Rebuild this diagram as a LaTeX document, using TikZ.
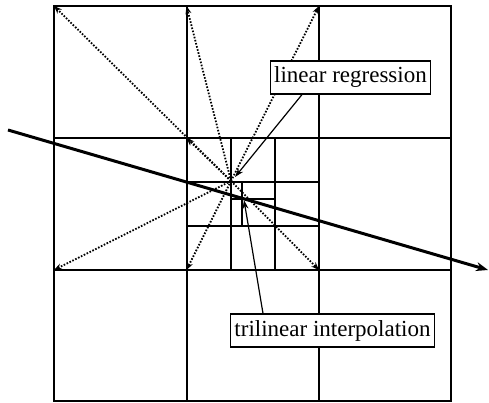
\documentclass[tikz,border=0pt]{standalone}
\usepackage{fontspec}
\setmainfont{Liberation Serif}
\usetikzlibrary{positioning, arrows.meta}

\begin{document}
\begin{tikzpicture}[
        x=1pt, y=-1pt,
        gridline/.style={line width=2pt},
        dotarrow/.style={-{Stealth[length=8pt, width=6pt]}, line width=1.8pt, dash pattern=on 1.6pt off 1.6pt},
        labelbox/.style={rectangle, draw, fill=white, line width=1.2pt, font=\fontsize{23}{27}\selectfont, minimum height=33pt, inner xsep=4pt, inner ysep=0pt},
        arrow/.style={-{Stealth[length=9pt, width=6pt]}, line width=1.2pt},
        fitline/.style={-{Stealth[length=12pt, width=9pt]}, line width=3pt},
    ]
    \useasboundingbox (0,0) rectangle (489,403);

    % ===== Coarse grid =====
    \draw[gridline] (54,6) rectangle (451,401);
    \draw[gridline] (186.5,6) -- (186.5,401);
    \draw[gridline] (319,6) -- (319,401);
    \draw[gridline] (54,138) -- (451,138);
    \draw[gridline] (54,270) -- (451,270);

    % ===== Refined centre cell =====
    \draw[gridline] (230.5,138) -- (230.5,270);
    \draw[gridline] (275,138) -- (275,270);
    \draw[gridline] (186.5,182) -- (319,182);
    \draw[gridline] (186.5,226) -- (319,226);
    \draw[gridline] (242,182) -- (242,226);
    \draw[gridline] (230.5,199) -- (275,199);

    % ===== Corner points =====
    \coordinate (SRC) at (231,181);
    \coordinate (TL) at (54,6);
    \coordinate (TM) at (186.5,6);
    \coordinate (TR) at (319,6);
    \coordinate (CTL) at (186.5,138);
    \coordinate (BL) at (54,270);
    \coordinate (BM) at (186.5,270);
    \coordinate (BR) at (319,270);

    \draw[dotarrow] (SRC) -- (TL);
    \draw[dotarrow] (SRC) -- (CTL);
    \draw[dotarrow] (SRC) -- (TM);
    \draw[dotarrow] (SRC) -- (TR);
    \draw[dotarrow] (SRC) -- (BL);
    \draw[dotarrow] (SRC) -- (BM);
    \draw[dotarrow] (SRC) -- (BR);

    % ===== Regression line =====
    \coordinate (FIT_A) at (8,130);
    \coordinate (FIT_B) at (488,270);
    \draw[fitline] (FIT_A) -- (FIT_B);

    % ===== Labels =====
    \node[labelbox] (LR) at (350.5,77.5) {linear regression};
    \node[labelbox] (TI) at (332.5,330.5) {trilinear interpolation};

    \coordinate (LR_TIP) at (235,177);
    \coordinate (TI_TIP) at (244,200);
    \draw[arrow] ([xshift=-48.5pt]LR.south) -- (LR_TIP);
    \draw[arrow] ([xshift=-69.5pt]TI.north) -- (TI_TIP);

\end{tikzpicture}
\end{document}
